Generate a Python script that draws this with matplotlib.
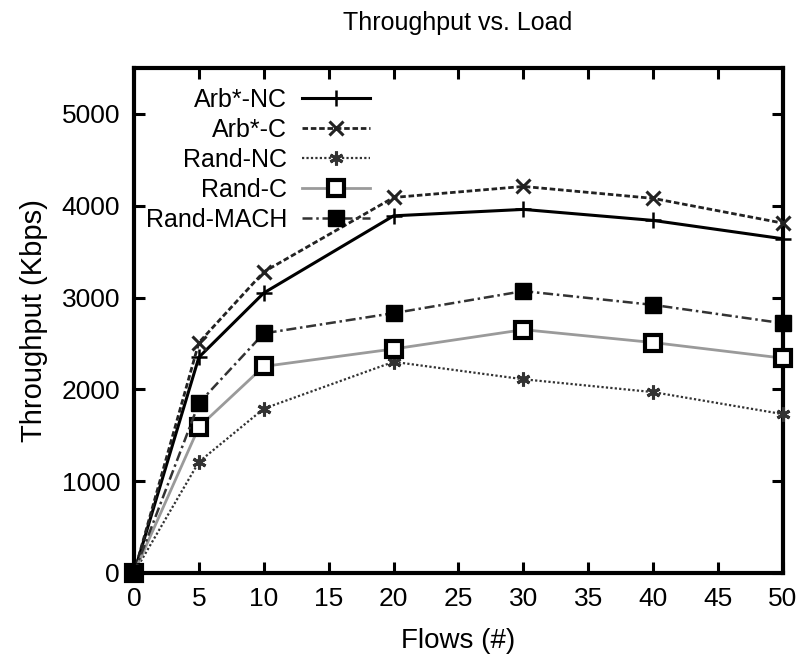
import matplotlib
matplotlib.use("Agg")
import matplotlib.pyplot as plt

plt.rcParams['font.family'] = ['Liberation Sans', 'DejaVu Sans']

flows = [0, 5, 10, 20, 30, 40, 50]
arb_nc = [0, 2350, 3050, 3890, 3960, 3840, 3640]
arb_c = [0, 2510, 3280, 4090, 4210, 4080, 3810]
rand_nc = [0, 1210, 1790, 2300, 2110, 1970, 1730]
rand_c = [0, 1590, 2250, 2440, 2650, 2510, 2340]
rand_mach = [0, 1850, 2610, 2830, 3070, 2920, 2720]
labels = ["Arb*-NC", "Arb*-C", "Rand-NC", "Rand-C", "Rand-MACH"]
xticks = list(range(0, 55, 5))
yticks = [0, 1000, 2000, 3000, 4000, 5000]

fig = plt.figure(figsize=(8.03, 6.64), dpi=100)
ax = fig.add_axes([134/803, 1-573/664, (783-134)/803, (573-68)/664])

kw = dict(clip_on=False, zorder=3)
ax.plot(flows, arb_nc, color='black', lw=2.2, ls='-', marker='+', ms=11, mew=1.8, label=labels[0], **kw)
ax.plot(flows, arb_c, color='#222222', lw=2.0, ls=(0, (2, 1)), marker='x', ms=10, mew=2.2, label=labels[1], **kw)
ax.plot(flows, rand_nc, color='#333333', lw=1.6, ls=(0, (1, 1)), marker=(6, 2, 0), ms=10, mew=2.2, label=labels[2], **kw)
ax.plot(flows, rand_c, color='#9a9a9a', lw=2.0, ls='-', marker='s', ms=12, mfc='white', mec='black', mew=3.0, label=labels[3], **kw)
ax.plot(flows, rand_mach, color='#333333', lw=1.8, ls=(0, (4, 1.5, 1, 1.5)), marker='s', ms=12, mfc='black', mec='black', label=labels[4], **kw)

ax.set_xlim(0, 50)
ax.set_ylim(0, 5500)
ax.set_xticks(xticks)
ax.set_yticks(yticks)
ax.tick_params(direction='in', length=8, width=2.2, top=True, right=True, labelsize=19, pad=10)
for s in ax.spines.values():
    s.set_linewidth(3)

fig.text(458/803, 1-23/664, "Throughput vs. Load", fontsize=18, ha='center', va='center')
ax.set_xlabel("Flows (#)", fontsize=20, labelpad=12)
ax.set_ylabel("Throughput (Kbps)", fontsize=21, labelpad=10)

leg = ax.legend(loc='upper left', bbox_to_anchor=(-0.009, 0.995), frameon=False, markerfirst=False,
                fontsize=18, handlelength=2.7, labelspacing=0.24, handletextpad=0.6, borderaxespad=0.3)

fig.savefig("out.png", dpi=100)
